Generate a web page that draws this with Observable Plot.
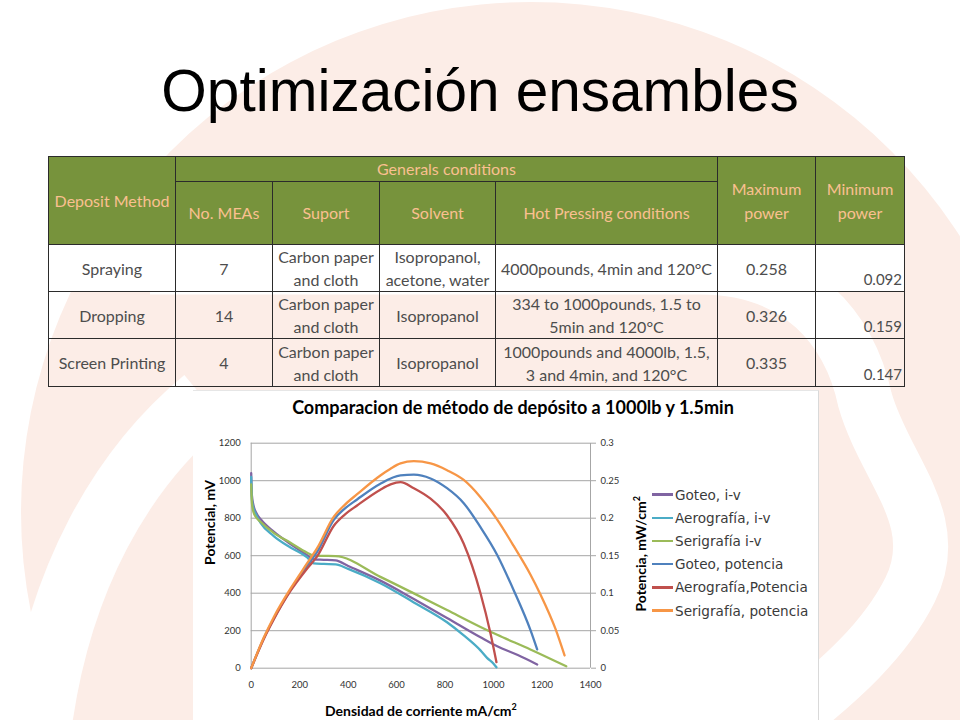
<!DOCTYPE html>
<html>
<head>
<meta charset="utf-8">
<script src="https://cdn.jsdelivr.net/npm/d3@7"></script>
<script src="https://cdn.jsdelivr.net/npm/@observablehq/plot@0.6"></script>
<style>
  html, body { margin:0; padding:0; background:#fff; }
  body { width:960px; height:720px; position:relative; overflow:hidden; }
  #bg { position:absolute; left:0; top:0; }
  #title { position:absolute; left:0; top:62px; width:960px; text-align:center;
    font-family:"Liberation Sans", Arial, sans-serif; font-size:58.5px; line-height:58.5px; color:#000; }
  table.t { position:absolute; left:48px; top:156px; width:856px; border-collapse:collapse;
    table-layout:fixed; font-family:Lato, sans-serif; font-size:16px; }
  table.t td { border:1px solid #2b2b2b; padding:0; text-align:center; vertical-align:middle; }
  table.t tr.h td { background:#77933C; color:#FAC090; line-height:24px; }
  table.t tr.d td { color:#4d4d4d; line-height:23px; }
  table.t td.min { vertical-align:bottom; text-align:right; padding-right:2px; font-size:15px; line-height:18px; }
  #chart { position:absolute; left:193px; top:390px; width:625px; height:330px; background:#fff;
    border-right:1px solid #D9D9D9; border-top:1px solid #E6E6E6; }
  #ctitle { position:absolute; left:0; top:5px; width:640px; text-align:center;
    font-family:Lato, sans-serif; font-weight:bold; font-size:18px; color:#000; }
  #plot { position:absolute; left:0; top:35px; }
  .atitle { position:absolute; font-family:Lato, sans-serif; font-weight:bold; font-size:14px; color:#000; white-space:nowrap; }
  #legend { position:absolute; left:459px; top:92px; font-family:"DejaVu Sans", sans-serif; font-size:13.6px; color:#3a3a3a; }
  #legend .it { height:23.2px; display:flex; align-items:center; white-space:nowrap; }
  #legend .sw { width:21px; height:2.5px; margin-right:2px; }
</style>
</head>
<body>
<svg id="bg" width="960" height="720">
  <circle cx="531" cy="512" r="510" fill="#FCEDE7"/>
  <path d="M 150 267 L 700 267 C 800 267, 850 330, 865 400 C 885 470, 945 520, 910 590 C 885 640, 840 680, 790 720" fill="none" stroke="#fff" stroke-width="55"/>
  <path d="M 205 400 C 120 470, 60 580, 40 720" fill="none" stroke="#fff" stroke-width="65"/>
</svg>
<div id="title">Optimización ensambles</div>
<table class="t">
  <colgroup>
    <col style="width:127px"><col style="width:97px"><col style="width:107px"><col style="width:116px">
    <col style="width:222px"><col style="width:98px"><col style="width:89px">
  </colgroup>
  <tr class="h" style="height:25px">
    <td rowspan="2">Deposit Method</td>
    <td colspan="4">Generals conditions</td>
    <td rowspan="2">Maximum<br>power</td>
    <td rowspan="2">Minimum<br>power</td>
  </tr>
  <tr class="h" style="height:63px">
    <td>No. MEAs</td><td>Suport</td><td>Solvent</td><td>Hot Pressing conditions</td>
  </tr>
  <tr class="d" style="height:46px; background:#fff">
    <td>Spraying</td><td>7</td><td>Carbon paper<br>and cloth</td><td>Isopropanol,<br>acetone, water</td>
    <td>4000pounds, 4min and 120°C</td><td>0.258</td><td class="min">0.092</td>
  </tr>
  <tr class="d" style="height:47px">
    <td>Dropping</td><td>14</td><td>Carbon paper<br>and cloth</td><td>Isopropanol</td>
    <td>334 to 1000pounds, 1.5 to<br>5min and 120°C</td><td>0.326</td><td class="min">0.159</td>
  </tr>
  <tr class="d" style="height:48px">
    <td>Screen Printing</td><td>4</td><td>Carbon paper<br>and cloth</td><td>Isopropanol</td>
    <td>1000pounds and 4000lb, 1.5,<br>3 and 4min, and 120°C</td><td>0.335</td><td class="min">0.147</td>
  </tr>
</table>

<div id="chart">
  <div id="ctitle">Comparacion de método de depósito a 1000lb y 1.5min</div>
  <div id="plot"></div>
  <div class="atitle" id="ylab">Potencial, mV</div>
  <div class="atitle" id="y2lab">Potencia, mW/cm<sup style="font-size:9px">2</sup></div>
  <div class="atitle" id="xlab">Densidad de corriente mA/cm<sup style="font-size:9px">2</sup></div>
  <div id="legend"></div>
</div>

<script>
// ---- data ----
const seriesNames = ["Goteo, i-v", "Aerografía, i-v", "Serigrafía i-v", "Goteo, potencia", "Aerografía,Potencia", "Serigrafía, potencia"];
const seriesColors = ["#8064A2", "#4BACC6", "#9BBB59", "#4F81BD", "#C0504D", "#F79646"];

// current density (mA/cm2) and potential (mV)
const goteoIvX = [0, 3, 10, 20, 40, 93, 162, 231, 258, 300, 348, 400, 533, 671, 808, 946, 1015, 1100, 1180];
const goteoIvY = [1040, 920, 865, 830, 793, 728, 662, 603, 580, 578, 575, 545, 467, 369, 268, 165, 117, 70, 20];

const aeroIvX = [0, 3, 10, 20, 38, 93, 162, 231, 258, 300, 348, 400, 533, 671, 808, 877, 946, 973, 1000, 1012];
const aeroIvY = [1020, 900, 850, 820, 776, 705, 644, 591, 559, 556, 554, 530, 453, 351, 245, 175, 95, 55, 24, 5];

const seriIvX = [0, 3, 10, 20, 38, 93, 162, 231, 258, 300, 348, 533, 671, 808, 946, 1015, 1152, 1300];
const seriIvY = [980, 880, 830, 805, 781, 722, 669, 616, 600, 599, 598, 487, 399, 310, 220, 178, 100, 10];

// current density (mA/cm2) and power (right axis)
const goteoPX = [0, 52, 93, 162, 231, 272, 341, 385, 437, 533, 616, 671, 740, 808, 877, 946, 1015, 1083, 1152, 1180];
const goteoPY = [0, 0.040, 0.066, 0.104, 0.137, 0.155, 0.198, 0.2125, 0.225, 0.246, 0.257, 0.258, 0.253, 0.240, 0.220, 0.188, 0.151, 0.104, 0.051, 0.025];

const aeroPX = [0, 52, 93, 162, 231, 272, 341, 385, 437, 533, 575, 616, 671, 740, 808, 877, 946, 987, 1012];
const aeroPY = [0, 0.039, 0.065, 0.103, 0.133, 0.149, 0.190, 0.2045, 0.217, 0.238, 0.245, 0.248, 0.240, 0.226, 0.204, 0.166, 0.100, 0.047, 0.008];

const seriPX = [0, 52, 93, 162, 231, 272, 341, 385, 437, 533, 575, 616, 671, 740, 808, 877, 946, 1015, 1083, 1152, 1194, 1256, 1293];
const seriPY = [0, 0.041, 0.068, 0.106, 0.140, 0.160, 0.202, 0.2175, 0.232, 0.257, 0.266, 0.273, 0.276, 0.273, 0.264, 0.251, 0.228, 0.198, 0.163, 0.125, 0.098, 0.052, 0.017];

const xTicks = [0, 200, 400, 600, 800, 1000, 1200, 1400];
const yTicks = [0, 200, 400, 600, 800, 1000, 1200];
const y2Ticks = [0, 0.05, 0.1, 0.15, 0.2, 0.25, 0.3];

// ---- build table for Plot ----
const Y2MAX = 0.3, YMAX = 1200; // secondary axis maps 0..0.3 onto 0..1200
const seriesList = [
  [goteoIvX, goteoIvY, false], [aeroIvX, aeroIvY, false], [seriIvX, seriIvY, false],
  [goteoPX, goteoPY, true], [aeroPX, aeroPY, true], [seriPX, seriPY, true]
];
const rows = seriesList.flatMap(([xs, ys, secondary], i) =>
  xs.map((x, j) => ({ name: seriesNames[i], x, y: secondary ? ys[j] * YMAX / Y2MAX : ys[j] })));

const grid = "#A6A6A6";
const chart = Plot.plot({
  width: 447, height: 295,
  marginLeft: 57.7, marginTop: 16.7, marginRight: 50, marginBottom: 53.3,
  style: { fontFamily: "Lato, sans-serif", fontSize: "9.5px", color: "#333", background: "transparent" },
  x: { domain: [0, 1400] },
  y: { domain: [0, YMAX] },
  color: { domain: seriesNames, range: seriesColors },
  marks: [
    Plot.gridY(yTicks, { stroke: grid, strokeOpacity: 1 }),
    Plot.ruleX([0, 1400], { stroke: grid }),
    Plot.axisY(yTicks, { anchor: "left", tickSize: 0, tickPadding: 10.5, tickFormat: d => String(d), label: null }),
    Plot.axisY(y2Ticks.map(v => v * YMAX / Y2MAX), { anchor: "right", tickSize: 5, tickPadding: 5, stroke: grid,
      tickFormat: (d, i) => String(y2Ticks[i]), label: null }),
    Plot.axisX(xTicks, { tickSize: 0, tickPadding: 13, tickFormat: d => String(d), label: null }),
    Plot.line(rows, { x: "x", y: "y", z: "name", stroke: "name", strokeWidth: 2.3, curve: "monotone-x" })
  ]
});
document.getElementById("plot").appendChild(chart);

// legend
const leg = document.getElementById("legend");
seriesNames.forEach((n, i) => {
  const it = document.createElement("div");
  it.className = "it";
  it.innerHTML = `<span class="sw" style="background:${seriesColors[i]}"></span><span>${n}</span>`;
  leg.appendChild(it);
});

// axis titles positions (relative to chart box at 193,390)
function place(id, cx, cy, rot) {
  const el = document.getElementById(id);
  const w = el.offsetWidth, h = el.offsetHeight;
  el.style.left = (cx - w / 2) + "px";
  el.style.top = (cy - h / 2) + "px";
  if (rot) el.style.transform = "rotate(-90deg)";
}
place("ylab", 209 - 193, 521 - 390, true);
place("y2lab", 639 - 193, 553 - 390, true);
place("xlab", 421 - 193, 709 - 390, false);
</script>
</body>
</html>
